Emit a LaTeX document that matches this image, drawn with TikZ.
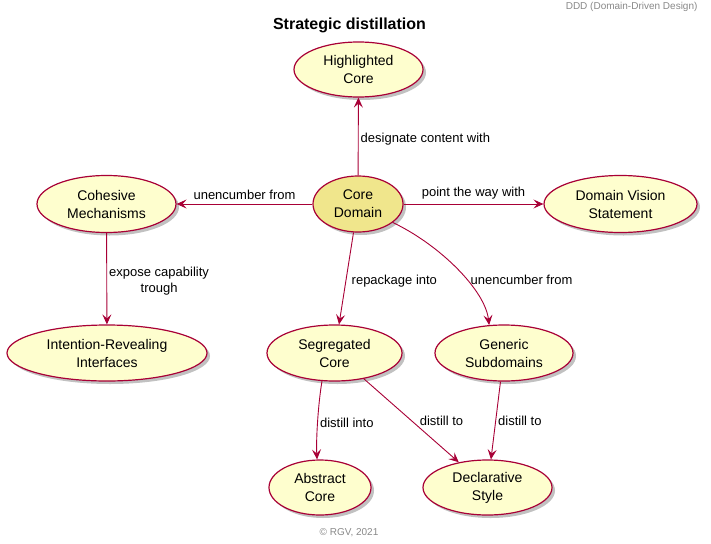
\documentclass[tikz,border=0pt]{standalone}
\usepackage{fontspec}
\setmainfont{Liberation Sans}
\usetikzlibrary{shapes.geometric,shadows,arrows.meta}
\definecolor{ucfill}{HTML}{FEFECE}
\definecolor{ucline}{HTML}{A80036}
\definecolor{corefill}{HTML}{F0E68C}
\definecolor{notegray}{HTML}{888888}
\begin{document}
\begin{tikzpicture}[x=1pt, y=-1pt,
  usecase/.style={ellipse, draw=ucline, fill=ucfill, line width=1.2pt, inner sep=0pt, align=center,
    font=\fontsize{14}{18}\selectfont,
    drop shadow={shadow xshift=3pt, shadow yshift=-3pt, opacity=0.35, fill=black!70}},
  rel/.style={draw=ucline, line width=0.9pt, -{Stealth[length=10pt,width=9pt,inset=4pt]}},
  rellabel/.style={font=\fontsize{13}{16}\selectfont, inner sep=2pt, align=center},
  smallgray/.style={font=\fontsize{10}{12}\selectfont, text=notegray}]
\useasboundingbox (0,0) rectangle (711,543);

\node[font=\bfseries\fontsize{16}{19}\selectfont] (title) at (349.5,25) {Strategic distillation};
\node[smallgray, anchor=east] (header) at (701,7) {DDD (Domain-Driven Design)};
\node[smallgray] (footer) at (349,533) {© RGV, 2021};

\node[usecase, minimum width=129pt, minimum height=55pt] (highlighted) at (358.5,69.5) {Highlighted\\Core};
\node[usecase, fill=corefill, minimum width=90pt, minimum height=56pt] (core) at (358,204) {Core\\Domain};
\node[usecase, minimum width=139pt, minimum height=57pt] (cohesive) at (106.5,204) {Cohesive\\Mechanisms};
\node[usecase, minimum width=153pt, minimum height=57pt] (vision) at (620.5,204) {Domain Vision\\Statement};
\node[usecase, minimum width=200pt, minimum height=56pt] (intention) at (107,353) {Intention-Revealing\\Interfaces};
\node[usecase, minimum width=135pt, minimum height=56pt] (segregated) at (334.5,353) {Segregated\\Core};
\node[usecase, minimum width=138pt, minimum height=56pt] (generic) at (504,353) {Generic\\Subdomains};
\node[usecase, minimum width=102pt, minimum height=55pt] (abstract) at (320,487.5) {Abstract\\Core};
\node[usecase, minimum width=129pt, minimum height=55pt] (declarative) at (487.5,487.5) {Declarative\\Style};

\draw[rel] (core) -- node[rellabel, right, yshift=-3pt] {designate content with} (highlighted);
\draw[rel] (core) -- node[rellabel, above=2pt] {unencumber from} (cohesive);
\draw[rel] (core) -- node[rellabel, above=2pt] {point the way with} (vision);
\draw[rel] (cohesive) -- node[rellabel, right, yshift=-2pt] {expose capability\\trough} (intention);
\draw[rel] (core) -- node[rellabel, right, xshift=3pt, yshift=-3pt] {repackage into} (segregated);
\draw[rel] (core.-28) .. controls (440,245) and (485,290) .. node[rellabel, anchor=west, pos=.58, xshift=3pt, yshift=-2pt] {unencumber from} (generic.118);
\draw[rel] (segregated.-114) .. controls (318,405) and (316,440) .. node[rellabel, anchor=west, yshift=-1pt] {distill into} (abstract.96);
\draw[rel] (segregated) -- node[rellabel, anchor=west, xshift=6pt] {distill to} (declarative);
\draw[rel] (generic) -- node[rellabel, anchor=west] {distill to} (declarative);
\end{tikzpicture}
\end{document}
